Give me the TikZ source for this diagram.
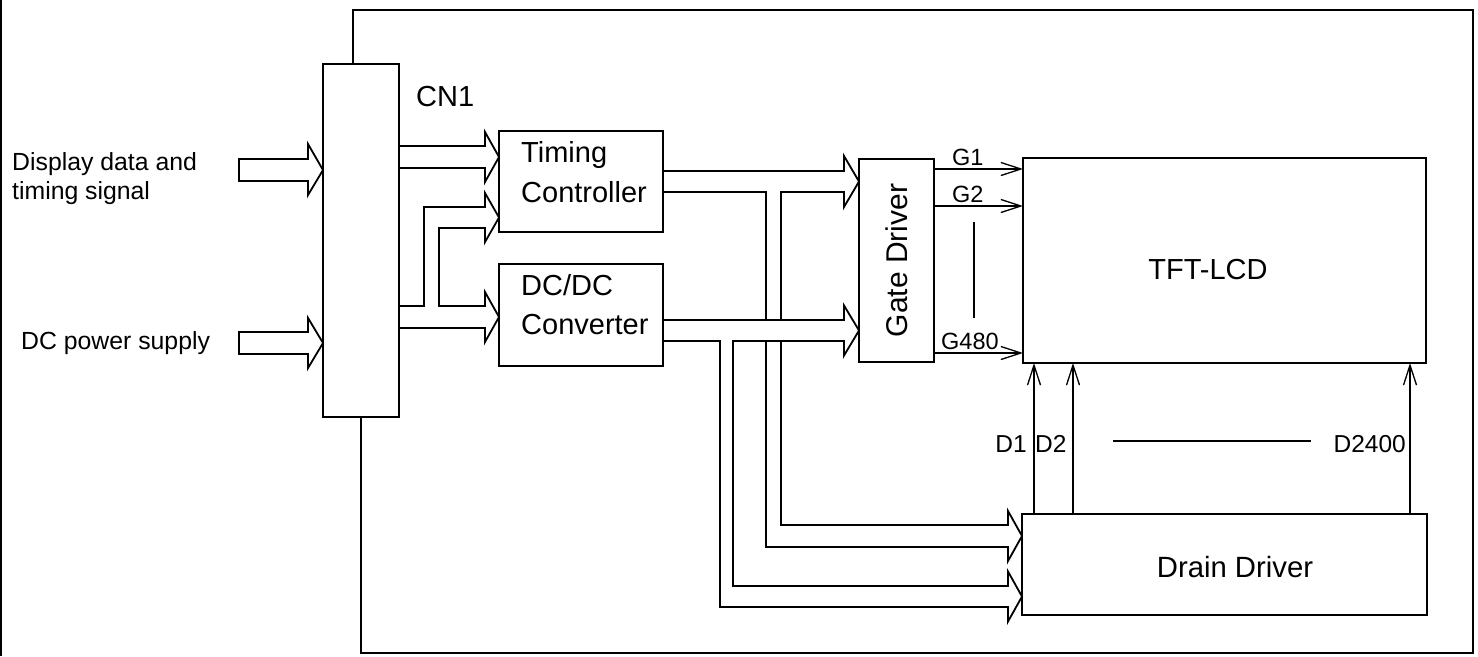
\documentclass[tikz,border=0pt]{standalone}
\usepackage{fontspec}
\setmainfont{Liberation Sans}
\usetikzlibrary{arrows.meta}
\begin{document}
\begin{tikzpicture}[x=1pt,y=-1pt,
  box/.style={draw, line width=2.2pt, rectangle, inner sep=0pt, outer sep=0pt},
  bus/.style={line width=1.8pt, line join=miter},
  sig/.style={line width=1.3pt, -{Straight Barb[length=20pt,width=13pt,line width=1.3pt]}},
  lbl/.style={inner sep=0pt, font=\fontsize{24.8}{30}\selectfont},
  blbl/.style={inner sep=0pt, font=\fontsize{29}{36}\selectfont},
  glbl/.style={inner sep=0pt, font=\fontsize{23.5}{28}\selectfont},
  dlbl/.style={inner sep=0pt, font=\fontsize{24.5}{29}\selectfont},
  frame/.style={line width=2pt}
]
\useasboundingbox (0,0) rectangle (1478,656);

% page edge line
\draw[frame] (1,0) -- (1,656);

% blocks
\node[box, minimum width=76pt, minimum height=353pt] (cn1) at (361,240.5) {};
\node[box, minimum width=164pt, minimum height=101pt] (tc) at (581,181.5) {};
\node[box, minimum width=164pt, minimum height=102pt] (dc) at (581,315) {};
\node[box, minimum width=75pt, minimum height=203pt] (gd) at (896.5,260.5) {};
\node[box, minimum width=403pt, minimum height=205pt] (tft) at (1224.5,260.5) {};
\node[box, minimum width=405pt, minimum height=101pt] (dd) at (1224.5,564.5) {};

% frame
\draw[frame] (353,64) -- (353,10) -- (1473,10) -- (1473,653) -- (cn1.south |- 0,653) -- (cn1.south);

% texts
\node[blbl, anchor=base west] (cnlbl) at (416,106) {CN1};
\node[blbl, anchor=base west] (tc1) at (521,162) {Timing};
\node[blbl, anchor=base west] (tc2) at (521,202) {Controller};
\node[blbl, anchor=base west] (dc1) at (521,295) {DC/DC};
\node[blbl, anchor=base west] (dc2) at (521,334) {Converter};
\node[inner sep=0pt, font=\fontsize{30}{36}\selectfont, rotate=90] (gdl) at (gd.center) {Gate Driver};
\node[inner sep=0pt, font=\fontsize{29}{36}\selectfont] (tftl) at (1208,270) {TFT-LCD};
\node[inner sep=0pt, font=\fontsize{29.3}{36}\selectfont] (ddl) at (1235,567) {Drain Driver};
\node[lbl, anchor=base west] (in1a) at (12,170) {Display data and};
\node[lbl, anchor=base west] (in1b) at (12,199) {timing signal};
\node[lbl, anchor=base west] (in2) at (21,349) {DC power supply};

% input hollow arrows
\draw[bus] (239,159) -- (308,159) -- (308,144) -- (cn1.west |- 0,170) -- (308,195) -- (308,181) -- (239,181) -- cycle;
\draw[bus] (239,332) -- (308,332) -- (308,318) -- (cn1.west |- 0,343) -- (308,368) -- (308,354) -- (239,354) -- cycle;

% CN1 -> TC upper
\draw[bus] (cn1.east |- 0,146) -- (485,146) -- (485,132) -- (tc.west |- 0,157) -- (485,182) -- (485,168) -- (cn1.east |- 0,168);
% CN1 -> DC with branch to TC lower
\draw[bus] (cn1.east |- 0,306) -- (424,306) -- (424,207) -- (485,207) -- (485,193) -- (tc.west |- 0,217.5) -- (485,242) -- (485,228) -- (439,228) -- (439,306) -- (485,306) -- (485,292) -- (dc.west |- 0,317) -- (485,342) -- (485,328) -- (cn1.east |- 0,328);

% TC -> Gate driver, branch to drain driver
\draw[bus] (tc.east |- 0,171) -- (844,171) -- (844,156) -- (gd.west |- 0,181.5) -- (844,207) -- (844,192) -- (781,192) -- (781,320);
\draw[bus] (766,320) -- (766,192) -- (tc.east |- 0,192);
\draw[bus] (781,341) -- (781,525) -- (1008,525) -- (1008,511) -- (dd.west |- 0,536) -- (1008,561) -- (1008,547) -- (766,547) -- (766,341);

% DC -> Gate driver, branch to drain driver
\draw[bus] (dc.east |- 0,320) -- (844,320) -- (844,305.5) -- (gd.west |- 0,330.5) -- (844,355.5) -- (844,341) -- (733,341) -- (733,586) -- (1008,586) -- (1008,571.5) -- (dd.west |- 0,596.5) -- (1008,621.5) -- (1008,607) -- (720,607) -- (720,341) -- (dc.east |- 0,341);

% gate lines
\draw[sig] (gd.east |- 0,169) -- (tft.west |- 0,169);
\draw[sig] (gd.east |- 0,206) -- (tft.west |- 0,206);
\draw[sig] (gd.east |- 0,353) -- (tft.west |- 0,353);
\draw[line width=1.3pt] (974,222) -- (974,318);
\node[glbl, anchor=base west] (g1) at (952,165) {G1};
\node[glbl, anchor=base west] (g2) at (952,202) {G2};
\node[glbl, anchor=base west] (g480) at (941,349) {G480};

% drain lines
\draw[sig] (dd.north -| 1034,0) -- (tft.south -| 1034,0);
\draw[sig] (dd.north -| 1073,0) -- (tft.south -| 1073,0);
\draw[sig] (dd.north -| 1410,0) -- (tft.south -| 1410,0);
\draw[line width=1.3pt] (1113,441) -- (1311,441);
\node[dlbl, anchor=base east] (d1) at (1027,452) {D1};
\node[dlbl, anchor=base west] (d2) at (1035,452) {D2};
\node[dlbl, anchor=base east] (d2400) at (1406,452) {D2400};
\end{tikzpicture}
\end{document}
